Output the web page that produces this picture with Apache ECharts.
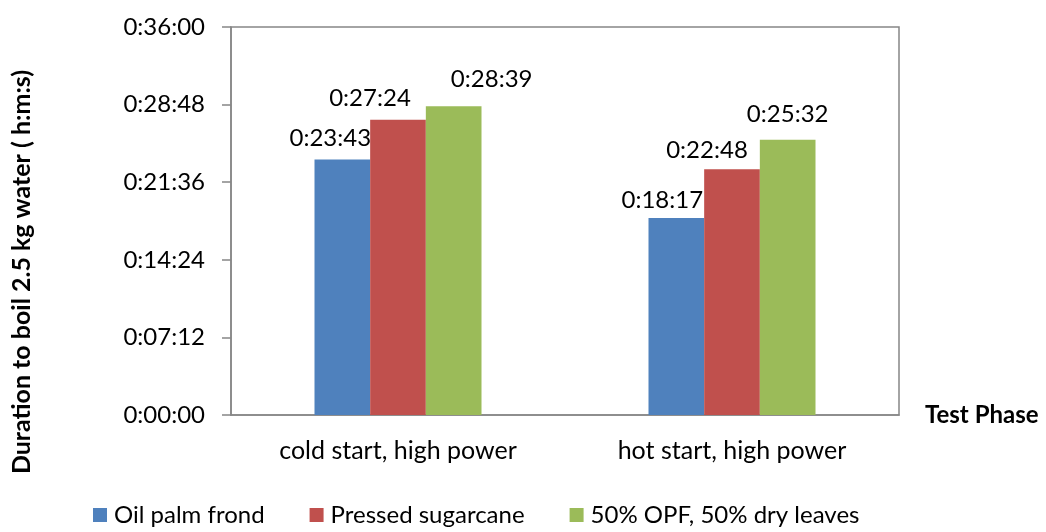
<!DOCTYPE html>
<html>
<head>
<meta charset="utf-8">
<script src="https://cdn.jsdelivr.net/npm/echarts@6/dist/echarts.min.js"></script>
<style>
html,body{margin:0;padding:0;background:#fff;}
#chart{width:1046px;height:532px;}
</style>
</head>
<body>
<div id="chart"></div>
<script>
// Categories (test phases)
var categories = ['cold start, high power', 'hot start, high power'];
// Series names
var seriesNames = ['Oil palm frond', 'Pressed sugarcane', '50% OPF, 50% dry leaves'];
var oilPalmFrond = [1423, 1097];      // 0:23:43, 0:18:17
var pressedSugarcane = [1644, 1368];  // 0:27:24, 0:22:48
var opfDryLeaves = [1719, 1532];      // 0:28:39, 0:25:32
// Y axis ticks (seconds): 0:00:00 ... 0:36:00
var yMin = 0, yMax = 2160, yInterval = 432;

// label placement tweaks (style only)
var labelShift = [
  [[-12, -9], [-14, -6]],
  [[-28, -9], [-25, -7]],
  [[38, -15], [0, -14]]
];
var colors = ['#4F81BD', '#C0504D', '#9BBB59'];
var FONT = 'Lato';

function hms(v) {
  v = Math.round(v);
  var h = Math.floor(v / 3600);
  var m = Math.floor((v % 3600) / 60);
  var s = v % 60;
  return h + ':' + (m < 10 ? '0' : '') + m + ':' + (s < 10 ? '0' : '') + s;
}

var seriesData = [oilPalmFrond, pressedSugarcane, opfDryLeaves];
var series = seriesData.map(function (arr, si) {
  return {
    name: seriesNames[si],
    type: 'bar',
    barGap: '0%',
    barCategoryGap: '50%',
    itemStyle: { color: colors[si] },
    label: {
      show: true,
      position: 'top',
      distance: 0,
      color: '#000',
      fontFamily: FONT,
      fontSize: 24,
      formatter: function (p) { return hms(p.value); }
    },
    data: arr.map(function (v, ci) {
      return { value: v, label: { offset: labelShift[si][ci] } };
    })
  };
});

var chart = echarts.init(document.getElementById('chart'), null, { renderer: 'canvas' });
chart.setOption({
  animation: false,
  backgroundColor: '#fff',
  textStyle: { fontFamily: FONT },
  grid: {
    left: 231, right: 147, top: 27, bottom: 117,
    show: true, borderColor: '#868686', borderWidth: 1.5, backgroundColor: 'transparent'
  },
  legend: {
    bottom: 0,
    left: 88,
    itemWidth: 14,
    itemHeight: 14,
    itemGap: 45,
    icon: 'rect',
    textStyle: { fontFamily: FONT, fontSize: 24, color: '#000', padding: [0, 0, 0, 2] },
    data: seriesNames
  },
  xAxis: {
    type: 'category',
    data: categories,
    name: 'Test Phase',
    nameLocation: 'end',
    nameGap: 26,
    nameTextStyle: { fontFamily: FONT, fontSize: 24, fontWeight: 'bold', color: '#000' },
    axisLine: { lineStyle: { color: '#868686', width: 1.5 } },
    axisTick: { show: false },
    axisLabel: { color: '#000', fontFamily: FONT, fontSize: 25, margin: 23 }
  },
  yAxis: {
    type: 'value',
    min: yMin, max: yMax, interval: yInterval,
    axisLine: { show: true, lineStyle: { color: '#868686', width: 1.5 } },
    axisTick: { show: true, length: 9, lineStyle: { color: '#868686', width: 1.5 } },
    splitLine: { show: false },
    axisLabel: { color: '#000', fontFamily: FONT, fontSize: 24, margin: 26, formatter: hms }
  },
  graphic: [{
    type: 'text',
    x: 22, y: 272,
    rotation: Math.PI / 2,
    style: {
      text: 'Duration to boil 2.5 kg water ( h:m:s)',
      fontFamily: FONT, fontSize: 25, fontWeight: 'bold', fill: '#000',
      align: 'center', verticalAlign: 'middle'
    }
  }],
  series: series
});
</script>
</body>
</html>
